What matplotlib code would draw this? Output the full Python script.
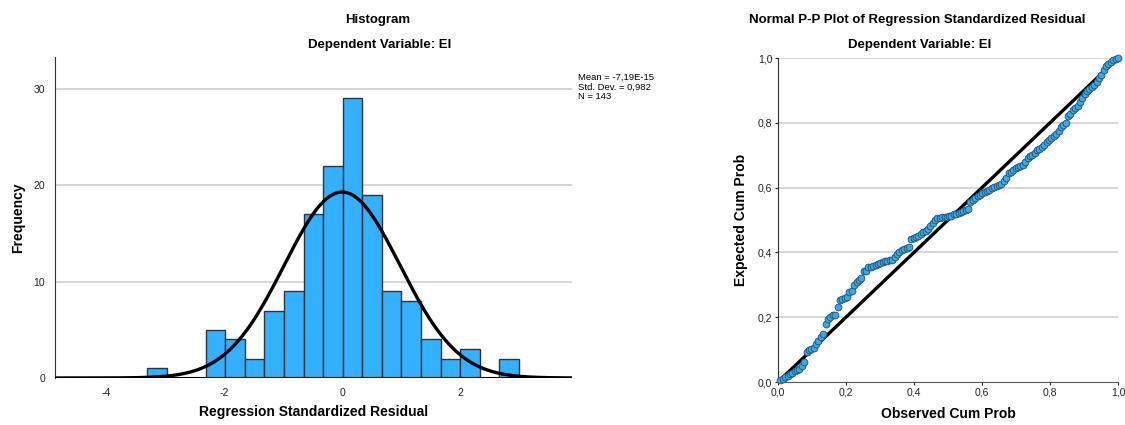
import numpy as np
import matplotlib
matplotlib.use("Agg")
import matplotlib.pyplot as plt

plt.rcParams['font.family'] = ['Liberation Sans', 'DejaVu Sans']
plt.rcParams['axes.unicode_minus'] = False

# histogram of regression standardized residuals
bin_left = [-3.31, -2.978, -2.646, -2.314, -1.982, -1.65, -1.318, -0.986,
            -0.654, -0.322, 0.01, 0.342, 0.674, 1.006, 1.338, 1.67, 2.002,
            2.334, 2.666]
bin_width = 0.332
freq = [1, 0, 0, 5, 4, 2, 7, 9, 17, 22, 29, 19, 9, 8, 4, 2, 3, 0, 2]
res_mean = -7.19e-15
res_sd = 0.982
n_obs = 143
hist_xticks = [-4, -2, 0, 2]
hist_yticks = [0, 10, 20, 30]

# normal P-P plot points
obs_cum = [0.007, 0.014, 0.021, 0.028, 0.035, 0.042, 0.049, 0.056, 0.063, 0.070,
           0.077, 0.084, 0.091, 0.098, 0.105, 0.112, 0.119, 0.126, 0.133, 0.140,
           0.147, 0.154, 0.161, 0.168, 0.175, 0.182, 0.189, 0.196, 0.203, 0.210,
           0.217, 0.224, 0.231, 0.238, 0.245, 0.252, 0.259, 0.266, 0.273, 0.280,
           0.287, 0.294, 0.301, 0.308, 0.315, 0.322, 0.329, 0.336, 0.343, 0.350,
           0.357, 0.364, 0.371, 0.378, 0.385, 0.392, 0.399, 0.406, 0.413, 0.420,
           0.427, 0.434, 0.441, 0.448, 0.455, 0.462, 0.469, 0.476, 0.483, 0.490,
           0.497, 0.504, 0.510, 0.517, 0.524, 0.531, 0.538, 0.545, 0.552, 0.559,
           0.566, 0.573, 0.580, 0.587, 0.594, 0.601, 0.608, 0.615, 0.622, 0.629,
           0.636, 0.643, 0.650, 0.657, 0.664, 0.671, 0.678, 0.685, 0.692, 0.699,
           0.706, 0.713, 0.720, 0.727, 0.734, 0.741, 0.748, 0.755, 0.762, 0.769,
           0.776, 0.783, 0.790, 0.797, 0.804, 0.811, 0.818, 0.825, 0.832, 0.839,
           0.846, 0.853, 0.860, 0.867, 0.874, 0.881, 0.888, 0.895, 0.902, 0.909,
           0.916, 0.923, 0.930, 0.937, 0.944, 0.951, 0.958, 0.965, 0.972, 0.979,
           0.986, 0.993, 1.000]
exp_cum = [0.005, 0.010, 0.014, 0.020, 0.025, 0.029, 0.033, 0.037, 0.041, 0.048,
           0.062, 0.092, 0.099, 0.103, 0.106, 0.118, 0.128, 0.140, 0.148, 0.180,
           0.195, 0.202, 0.206, 0.208, 0.232, 0.252, 0.255, 0.258, 0.262, 0.278,
           0.282, 0.300, 0.309, 0.316, 0.320, 0.342, 0.344, 0.354, 0.356, 0.358,
           0.362, 0.365, 0.368, 0.370, 0.373, 0.375, 0.376, 0.378, 0.385, 0.394,
           0.402, 0.406, 0.411, 0.414, 0.416, 0.441, 0.444, 0.447, 0.452, 0.456,
           0.462, 0.467, 0.472, 0.480, 0.492, 0.501, 0.505, 0.507, 0.508, 0.509,
           0.510, 0.511, 0.513, 0.517, 0.520, 0.522, 0.525, 0.528, 0.531, 0.535,
           0.555, 0.562, 0.568, 0.573, 0.578, 0.582, 0.586, 0.590, 0.594, 0.598,
           0.602, 0.605, 0.608, 0.612, 0.619, 0.630, 0.644, 0.648, 0.654, 0.660,
           0.663, 0.666, 0.670, 0.678, 0.690, 0.697, 0.702, 0.708, 0.716, 0.720,
           0.725, 0.730, 0.742, 0.748, 0.752, 0.760, 0.766, 0.776, 0.786, 0.793,
           0.798, 0.822, 0.826, 0.840, 0.846, 0.852, 0.864, 0.876, 0.890, 0.898,
           0.904, 0.910, 0.916, 0.926, 0.938, 0.946, 0.964, 0.975, 0.982, 0.988,
           0.993, 0.997, 1.000]
pp_ticks = [0.0, 0.2, 0.4, 0.6, 0.8, 1.0]
pp_labels = ['0,0', '0,2', '0,4', '0,6', '0,8', '1,0']

fig = plt.figure(figsize=(11.25, 4.25), dpi=100)
grid_col = '#cfcfcf'

# ---- histogram ----
ax1 = fig.add_axes([55/1125, 1-378/425, 517/1125, 321/425])
ax1.set_xlim(-4.87, 3.9)
ax1.set_ylim(0, 33.3)
for yv in hist_yticks[1:]:
    ax1.axhline(yv, color=grid_col, lw=1.2, zorder=0)
ax1.bar(bin_left, freq, width=bin_width, align='edge', color='#33b0ff',
        edgecolor='#333333', linewidth=1.0, zorder=2)
xs = np.linspace(-4.87, 3.9, 400)
curve = n_obs * bin_width * np.exp(-0.5*((xs-res_mean)/res_sd)**2) / (res_sd*np.sqrt(2*np.pi))
ax1.plot(xs, curve, color='black', lw=2.4, zorder=3)
ax1.axhline(0, color='black', lw=1.5, zorder=4)
ax1.set_xticks(hist_xticks)
ax1.set_yticks(hist_yticks)
ax1.tick_params(labelsize=7.5, length=0, pad=7, colors='#222222')
for s in ['top', 'right', 'bottom']:
    ax1.spines[s].set_visible(False)
ax1.spines['left'].set_color('#333333')
ax1.set_xlabel('Regression Standardized Residual', fontsize=10, fontweight='bold', labelpad=5)
ax1.set_ylabel('Frequency', fontsize=10, fontweight='bold', labelpad=6)

fig.text(578/1125, 1-73/425,
         'Mean = -7,19E-15\nStd. Dev. = 0,982\nN = %d' % n_obs,
         fontsize=6.8, va='top', ha='left', linespacing=1.1)

fig.text(378/1125, 1-20/425, 'Histogram', fontsize=9.5, fontweight='bold', ha='center', va='center')
fig.text(380/1125, 1-45/425, 'Dependent Variable: EI', fontsize=9.5, fontweight='bold', ha='center', va='center')

# ---- P-P plot ----
ax2 = fig.add_axes([778/1125, 1-382/425, 340/1125, 324/425])
ax2.set_xlim(0, 1)
ax2.set_ylim(0, 1)
for yv in pp_ticks[1:]:
    ax2.axhline(yv, color=grid_col, lw=1.2, zorder=0)
ax2.plot([0, 1], [0, 1], color='black', lw=2.4, zorder=2)
ax2.scatter(obs_cum, exp_cum, s=24, color='#3aa8e6', edgecolor='#1d4f73',
            linewidth=0.6, zorder=3, clip_on=False)
ax2.set_xticks(pp_ticks)
ax2.set_xticklabels(pp_labels)
ax2.set_yticks(pp_ticks)
ax2.set_yticklabels(pp_labels)
ax2.tick_params(labelsize=7.5, length=2, pad=2, colors='#222222')
for s in ['top', 'right']:
    ax2.spines[s].set_visible(False)
ax2.spines['left'].set_color('#333333')
ax2.spines['bottom'].set_color('#555555')
ax2.set_xlabel('Observed Cum Prob', fontsize=10, fontweight='bold', labelpad=7)
ax2.set_ylabel('Expected Cum Prob', fontsize=10, fontweight='bold', labelpad=7)

fig.text(917/1125, 1-20/425, 'Normal P-P Plot of Regression Standardized Residual',
         fontsize=9.5, fontweight='bold', ha='center', va='center')
fig.text(920/1125, 1-45/425, 'Dependent Variable: EI', fontsize=9.5, fontweight='bold',
         ha='center', va='center')

fig.savefig('out.png', dpi=100)
